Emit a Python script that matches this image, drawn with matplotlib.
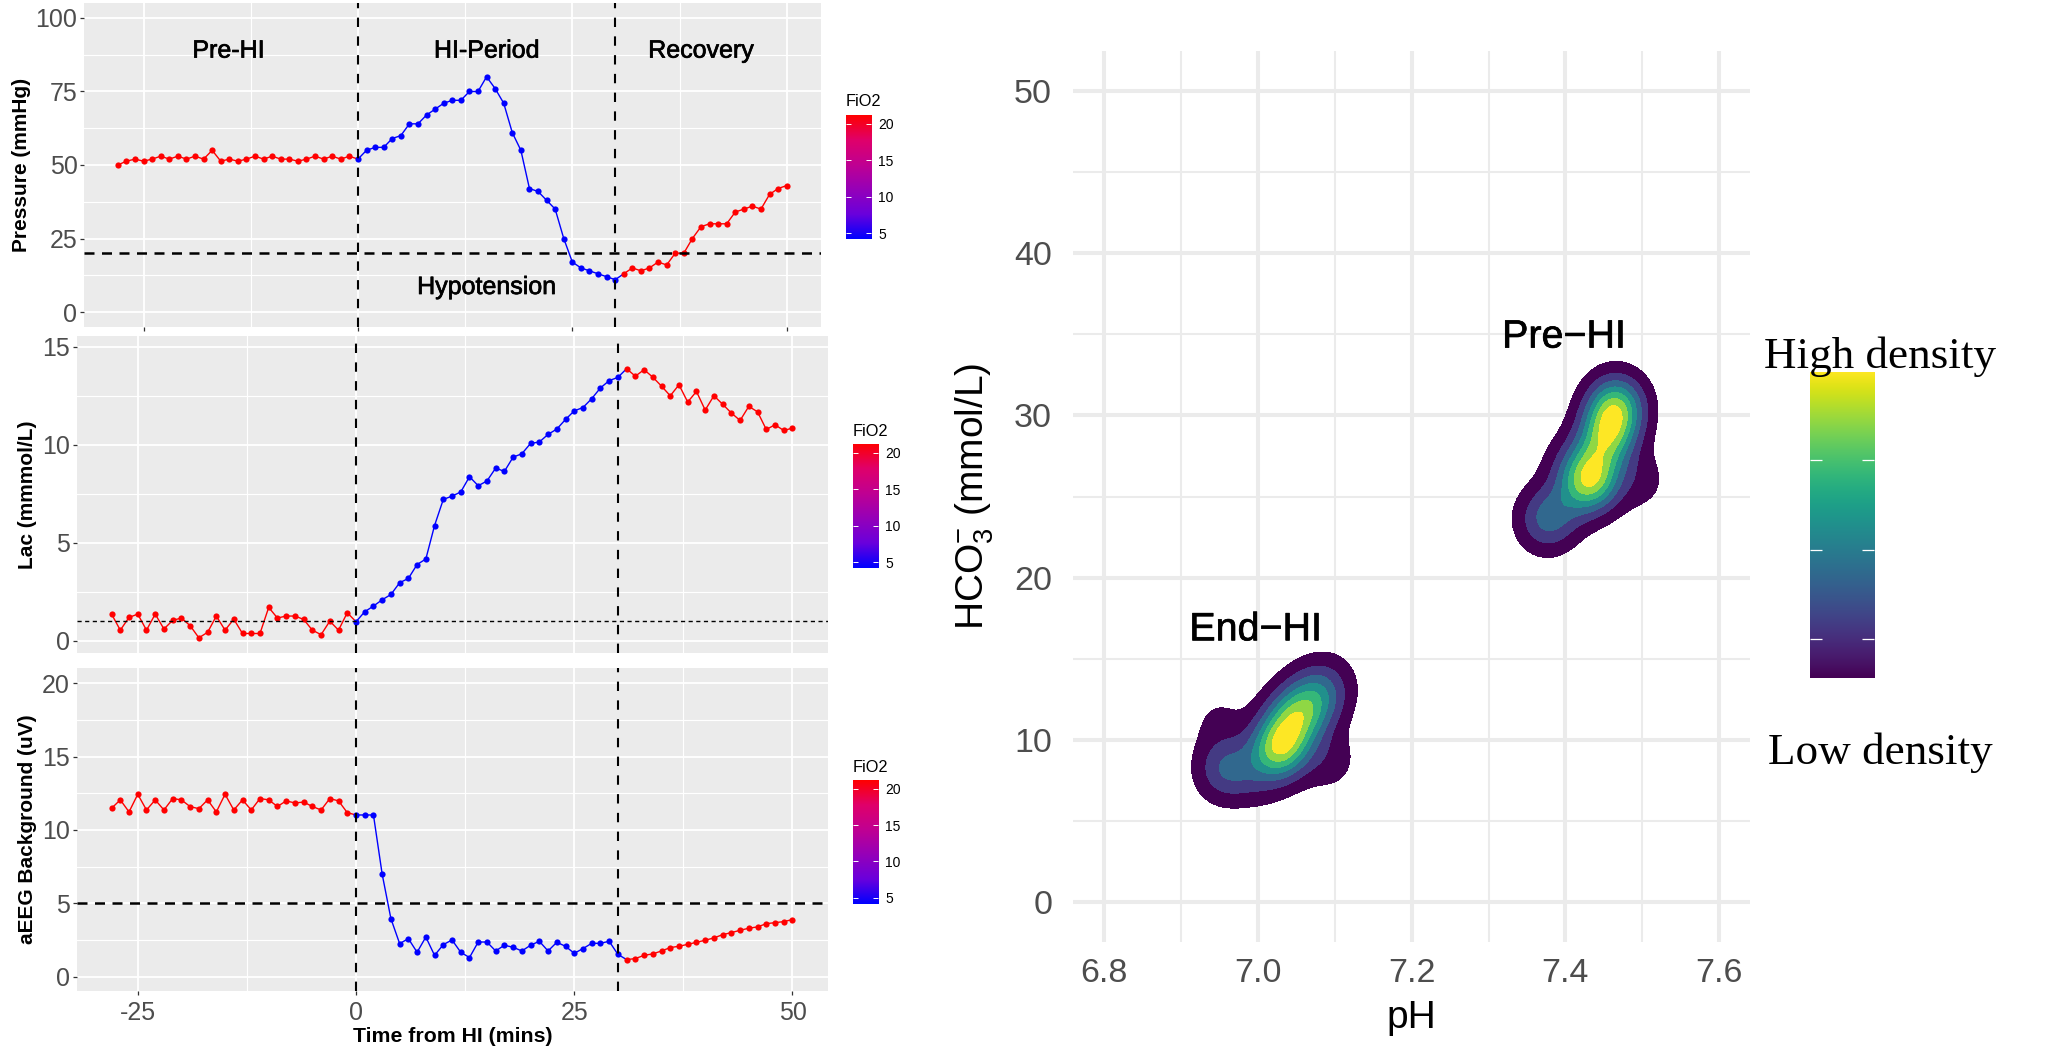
import numpy as np
import matplotlib
matplotlib.use("Agg")
import matplotlib.pyplot as plt
import matplotlib.patheffects as pe
from matplotlib.colors import LinearSegmentedColormap

plt.rcParams['font.family'] = ['Liberation Sans', 'DejaVu Sans']
plt.rcParams['mathtext.fontset'] = 'custom'
plt.rcParams['mathtext.rm'] = 'Liberation Sans'
plt.rcParams['mathtext.default'] = 'regular'
plt.rcParams['axes.unicode_minus'] = False

W, H = 2068, 1054

# ---- time series, one value per minute from -28 to 50 ----
minutes = np.arange(-28, 51)

pressure = [50, 51.3, 52, 51.3, 52, 53, 52, 53, 52, 53, 52, 55, 51.3, 52, 51.3, 52, 53, 52, 53, 52, 52,
            51.3, 52, 53, 52, 53, 52, 53, 52,
            55, 56, 56, 59, 60, 64, 64, 67, 69, 71, 72, 72, 75, 75, 80, 76, 71, 61, 55, 42, 41, 38, 35,
            25, 17, 15, 14, 13, 12, 11,
            13, 15, 14, 15, 17, 16, 20, 20, 25, 29, 30, 30, 30, 34, 35, 36, 35, 40, 42, 43]

lactate = [1.36, 0.54, 1.19, 1.36, 0.54, 1.36, 0.6, 1.04, 1.16, 0.77, 0.15, 0.43, 1.26, 0.54, 1.1, 0.37,
           0.37, 0.37, 1.7, 1.16, 1.26, 1.26, 1.09, 0.54, 0.31, 1.0, 0.54, 1.43, 0.97,
           1.48, 1.77, 2.09, 2.36, 2.96, 3.18, 3.89, 4.17, 5.88, 7.21, 7.38, 7.59, 8.37, 7.91, 8.15,
           8.81, 8.64, 9.37, 9.54, 10.07, 10.14, 10.53, 10.8, 11.29, 11.73, 11.9, 12.35, 12.9, 13.27, 13.44,
           13.88, 13.5, 13.83, 13.45, 12.99, 12.5, 13.06, 12.18, 12.72, 11.77, 12.5, 12.07, 11.62, 11.24,
           11.96, 11.68, 10.78, 11.02, 10.73, 10.85]

aeeg = [11.48, 12.05, 11.23, 12.43, 11.36, 12.05, 11.36, 12.14, 12.05, 11.59, 11.45, 12.05, 11.23, 12.43,
        11.36, 12.05, 11.36, 12.14, 12.05, 11.6, 11.98, 11.84, 11.9, 11.6, 11.36, 12.14, 11.98, 11.18, 11.02,
        11.02, 11.02, 6.98, 3.95, 2.25, 2.59, 1.66, 2.7, 1.45, 2.18, 2.5, 1.66, 1.3, 2.36, 2.36, 1.75, 2.14,
        2.0, 1.75, 2.14, 2.41, 1.75, 2.34, 2.07, 1.59, 1.91, 2.27, 2.27, 2.41, 1.52,
        1.16, 1.23, 1.45, 1.55, 1.75, 1.98, 2.07, 2.2, 2.34, 2.48, 2.64, 2.86, 3.0, 3.16, 3.3, 3.39, 3.61,
        3.68, 3.75, 3.89]

HI_START, HI_END = 0, 30

# ---- density clusters: ridge points (pH, HCO3, weight) ----
pre_ph = [7.376, 7.402, 7.408, 7.432, 7.444, 7.456, 7.466, 7.497]
pre_hco3 = [23.6, 24.6, 26.9, 25.9, 27.5, 29.0, 30.6, 26.0]
pre_w = [0.40, 0.12, 0.14, 0.78, 0.32, 0.62, 0.70, 0.12]

end_ph = [6.958, 7.000, 7.028, 7.048, 7.075, 6.950, 7.092, 7.095]
end_hco3 = [8.2, 8.0, 9.5, 11.3, 12.6, 11.1, 8.8, 13.6]
end_w = [0.44, 0.22, 1.00, 0.80, 0.55, 0.11, 0.17, 0.13]

BW_PH, BW_HCO3 = 0.025, 1.3
density_levels = [0.07, 0.20, 0.335, 0.47, 0.60, 0.735, 0.87, 1.01]
density_colors = ['#440154', '#443A83', '#31688E', '#21908C', '#35B779', '#8FD744', '#FDE725']

fio2_cmap = LinearSegmentedColormap.from_list(
    'fio2', ['#0000FF', '#6A00DC', '#9600B8', '#C00092', '#E0006A', '#FF0000'])


def add_ax(left, top, right, bottom):
    return fig.add_axes([left / W, 1 - bottom / H, (right - left) / W, (bottom - top) / H])


def kde(ph, hco3, w, xx, yy):
    z = np.zeros_like(xx)
    for a, b, c in zip(ph, hco3, w):
        z += c * np.exp(-0.5 * (((xx - a) / BW_PH) ** 2 + ((yy - b) / BW_HCO3) ** 2))
    return z / z.max()


def style_panel(ax, xlim, ylim, yticks, yminor):
    ax.set_facecolor('#EBEBEB')
    for s in ax.spines.values():
        s.set_visible(False)
    ax.set_xlim(xlim)
    ax.set_ylim(ylim)
    ax.set_xticks([-25, 0, 25, 50])
    ax.set_xticks([-12.5, 12.5, 37.5], minor=True)
    ax.set_yticks(yticks)
    ax.set_yticks(yminor, minor=True)
    ax.grid(True, which='major', color='white', lw=1.3)
    ax.grid(True, which='minor', color='white', lw=0.8)
    ax.set_axisbelow(True)
    ax.tick_params(which='minor', length=0)
    ax.tick_params(which='major', length=3, width=0.9, color='#333333',
                   labelsize=18, labelcolor='#4D4D4D', pad=2)


def draw_series(ax, values):
    values = np.array(values)
    hi = (minutes >= HI_START) & (minutes <= HI_END)
    # segment takes the colour of its starting point
    ax.plot(minutes[:29], values[:29], color='#FF0000', lw=1.0, zorder=3)
    ax.plot(minutes[28:60], values[28:60], color='#0000FF', lw=1.0, zorder=3)
    ax.plot(minutes[59:], values[59:], color='#FF0000', lw=1.0, zorder=3)
    ax.scatter(minutes[~hi], values[~hi], s=20, color='#FF0000', lw=0, zorder=4)
    ax.scatter(minutes[hi], values[hi], s=20, color='#0000FF', lw=0, zorder=4)
    for x in (HI_START, HI_END):
        ax.axvline(x, color='black', lw=1.5, ls=(0, (4.5, 4.5)), zorder=5)


def fio2_bar(left, top, right, bottom, title_y):
    cax = add_ax(left, top, right, bottom)
    grad = np.linspace(0, 1, 256)[:, None]
    cax.imshow(grad, cmap=fio2_cmap, aspect='auto', origin='lower', extent=[0, 1, 4.2, 21.2])
    for s in cax.spines.values():
        s.set_visible(False)
    cax.set_xticks([])
    cax.set_yticks([5, 10, 15, 20])
    cax.tick_params(axis='y', left=True, right=True, labelleft=False, labelright=True,
                    direction='in', color='white', length=3.6, width=0.7,
                    labelsize=10, labelcolor='black', pad=5)
    fig.text(left / W, 1 - title_y / H, 'FiO2', fontsize=11.8, ha='left', va='center')


fig = plt.figure(figsize=(W / 100, H / 100), dpi=100)
heavy = [pe.withStroke(linewidth=0.5, foreground='black')]

# ---- top panel ----
ax1 = add_ax(84.4, 2.7, 821, 327)
style_panel(ax1, (-31.9, 54.0), (-5.1, 105.2), [0, 25, 50, 75, 100], [12.5, 37.5, 62.5, 87.5])
draw_series(ax1, pressure)
ax1.axhline(20, color='black', lw=1.8, ls=(0, (4, 3)), zorder=5)
ax1.tick_params(axis='x', labelbottom=False)
ax1.set_ylabel('Pressure (mmHg)', fontsize=15, fontweight='bold', va='center')
ax1.yaxis.set_label_coords((22 - 84.4) / 736.6, 0.5)
for label, tx, ty in [('Pre-HI', -15.1, 88.9), ('HI-Period', 15, 88.9), ('Recovery', 40, 88.9),
                      ('Hypotension', 15, 8.5)]:
    ax1.text(tx, ty, label, fontsize=18, color='black', ha='center', va='center', zorder=6,
             path_effects=heavy)

# ---- middle panel ----
ax2 = add_ax(77, 336, 828, 652.7)
style_panel(ax2, (-31.96, 54.07), (-0.61, 15.55), [0, 5, 10, 15], [2.5, 7.5, 12.5])
draw_series(ax2, lactate)
ax2.axhline(1, color='black', lw=1.0, ls=(0, (3, 2.5)), zorder=5)
ax2.tick_params(axis='x', labelbottom=False, bottom=False)
ax2.set_ylabel('Lac (mmmol/L)', fontsize=15, fontweight='bold', va='center')
ax2.yaxis.set_label_coords((28 - 77) / 751, 0.5)

# ---- bottom panel ----
ax3 = add_ax(77, 668, 828, 991)
style_panel(ax3, (-31.96, 54.07), (-0.98, 21.04), [0, 5, 10, 15, 20], [2.5, 7.5, 12.5, 17.5])
draw_series(ax3, aeeg)
ax3.axhline(5, color='black', lw=1.8, ls=(0, (4, 3)), zorder=5)
ax3.tick_params(axis='x', pad=4)
ax3.set_ylabel('aEEG Background (uV)', fontsize=15, fontweight='bold', va='center')
ax3.yaxis.set_label_coords((28 - 77) / 751, 0.5)
ax3.set_xlabel('Time from HI (mins)', fontsize=15.3, fontweight='bold', va='center')
ax3.xaxis.set_label_coords(0.5, -(1036 - 991) / 323)

fio2_bar(845.6, 115, 871.4, 239, 102)
fio2_bar(852.5, 444, 878, 568, 431)
fio2_bar(852.5, 780, 878, 903.7, 768)

# ---- density panel ----
ax4 = add_ax(1073, 51, 1750, 941.7)
ax4.set_xlim(6.7597, 7.640)
ax4.set_ylim(-2.45, 52.47)
for s in ax4.spines.values():
    s.set_visible(False)
ax4.set_xticks([6.8, 7.0, 7.2, 7.4, 7.6])
ax4.set_xticks([6.9, 7.1, 7.3, 7.5], minor=True)
ax4.set_yticks([0, 10, 20, 30, 40, 50])
ax4.set_yticks([5, 15, 25, 35, 45], minor=True)
ax4.grid(True, which='major', color='#EBEBEB', lw=2.9)
ax4.grid(True, which='minor', color='#EBEBEB', lw=1.45)
ax4.set_axisbelow(True)
ax4.tick_params(which='both', length=0)
ax4.tick_params(axis='both', which='major', labelsize=24.5, labelcolor='#4D4D4D')
ax4.tick_params(axis='x', which='major', pad=12)
ax4.tick_params(axis='y', which='major', pad=15)
ax4.set_xlabel('pH', fontsize=28, va='center')
ax4.xaxis.set_label_coords(0.5, -(1018 - 941.7) / 890.7)
ax4.set_ylabel('HCO$_3^{-}$ (mmol/L)', fontsize=28, va='center')
ax4.yaxis.set_label_coords((975 - 1073) / 677, 0.5)

xs = np.linspace(6.80, 7.62, 330)
ys = np.linspace(2, 38, 330)
xx, yy = np.meshgrid(xs, ys)
for ph, hco3, w, in [(pre_ph, pre_hco3, pre_w), (end_ph, end_hco3, end_w)]:
    ax4.contourf(xx, yy, kde(ph, hco3, w, xx, yy), levels=density_levels, colors=density_colors, zorder=3)

ax4.text(7.398, 34.8, 'Pre\u2212HI', fontsize=28.4, ha='center', va='center', zorder=5, path_effects=heavy)
ax4.text(6.997, 16.75, 'End\u2212HI', fontsize=28.4, ha='center', va='center', zorder=5, path_effects=heavy)

# ---- density colour bar ----
bar = add_ax(1810, 371.7, 1874, 677.7)
bar.imshow(np.linspace(0, 1, 256)[:, None], cmap='viridis', aspect='auto', origin='lower', extent=[0, 1, 0, 1])
for s in bar.spines.values():
    s.set_visible(False)
bar.set_xticks([])
bar.set_yticks([0.126, 0.417, 0.711])
bar.tick_params(axis='y', left=True, right=True, labelleft=False, direction='in',
                color='white', length=8.6, width=0.9)
fig.text(1880 / W, 1 - 368 / H, 'High density', family='Liberation Serif', fontsize=32.5,
         ha='center', va='baseline')
fig.text(1880 / W, 1 - 764 / H, 'Low density', family='Liberation Serif', fontsize=32.5,
         ha='center', va='baseline')

fig.savefig('out.png', dpi=100)
